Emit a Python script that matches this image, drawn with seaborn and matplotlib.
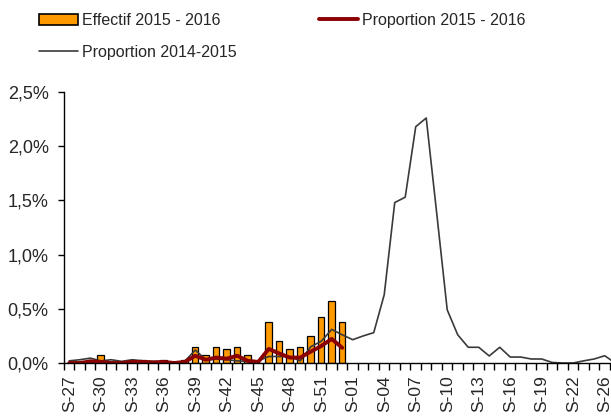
import numpy as np
import pandas as pd
import matplotlib
matplotlib.use("Agg")
import matplotlib.pyplot as plt
import seaborn as sns
from matplotlib.patches import Patch
from matplotlib.lines import Line2D
from matplotlib.ticker import FuncFormatter

# ---------------- data ----------------
weeks = (["S-%02d" % w for w in range(27, 54)]
         + ["S-%02d" % w for w in range(1, 23)]
         + ["S-24", "S-25", "S-26", "S-27"])

# Effectif 2015 - 2016 (counts, S-27 .. S-53)
effectif_2015_2016 = [0, 0, 1, 3, 0, 0, 1, 1, 0, 1, 0, 1, 6, 3, 6, 5, 6, 3, 0,
                      15, 8, 5, 6, 10, 17, 23, 15]

# Proportion 2015 - 2016 (%, S-27 .. S-53)
prop_2015_2016 = [0.0, 0.0, 0.015, 0.01, 0.0, 0.0, 0.01, 0.01, 0.005, 0.01, 0.0,
                  0.01, 0.067, 0.03, 0.05, 0.04, 0.067, 0.02, 0.01, 0.13, 0.088,
                  0.05, 0.05, 0.105, 0.157, 0.222, 0.14]

# Proportion 2014-2015 (%, whole season)
prop_2014_2015 = [0.02, 0.03, 0.045, 0.02, 0.03, 0.015, 0.03, 0.02, 0.015, 0.015,
                  0.0, 0.015, 0.12, 0.03, 0.037, 0.03, 0.02, 0.015, 0.02, 0.06,
                  0.06, 0.06, 0.02, 0.15, 0.20, 0.31, 0.26,
                  0.215, 0.25, 0.28, 0.63, 1.48, 1.53, 2.18, 2.26, 1.38, 0.49,
                  0.26, 0.145, 0.145, 0.065, 0.145, 0.055, 0.055, 0.037, 0.037,
                  0.005, 0.0, 0.0, 0.02, 0.037, 0.067, 0.0]

y_ticks = [0.0, 0.5, 1.0, 1.5, 2.0, 2.5]
legend_labels = ["Effectif 2015 - 2016", "Proportion 2014-2015", "Proportion 2015 - 2016"]

# ---------------- style ----------------
sns.set_style("white")
plt.rcParams["font.family"] = ["Liberation Sans", "DejaVu Sans"]

ORANGE = "#FF9900"
DARKRED = "#8B0000"
GREY = "#3A3A3A"

W, H = 611, 416
fig = plt.figure(figsize=(W / 100, H / 100), dpi=100)
ax = fig.add_axes([64 / W, 53 / H, (610.7 - 64) / W, 271 / H])
axb = ax.twinx()

pos_all = np.arange(len(weeks))
pos_15 = np.arange(len(effectif_2015_2016))

df_bar = pd.DataFrame({"x": pos_15, "n": effectif_2015_2016})
sns.barplot(data=df_bar, x="x", y="n", native_scale=True, ax=axb, color=ORANGE,
            saturation=1, edgecolor="black", linewidth=0.9, width=0.62)
axb.set_ylim(0, 100)
axb.set_yticks([])
axb.set_ylabel("")
for s in axb.spines.values():
    s.set_visible(False)

df14 = pd.DataFrame({"x": pos_all, "p": prop_2014_2015})
df15 = pd.DataFrame({"x": pos_15, "p": prop_2015_2016})
sns.lineplot(data=df14, x="x", y="p", ax=ax, color=GREY, linewidth=1.2)
sns.lineplot(data=df15, x="x", y="p", ax=ax, color=DARKRED, linewidth=2.8)

ax.set_zorder(2)
axb.set_zorder(1)
ax.patch.set_visible(False)

ax.set_xlim(-0.5, 51.57)
axb.set_xlim(-0.5, 51.57)
ax.set_ylim(0, 2.5)
ax.set_xlabel("")
ax.set_ylabel("")

for side in ["top", "right"]:
    ax.spines[side].set_visible(False)
for side in ["left", "bottom"]:
    ax.spines[side].set_color("black")
    ax.spines[side].set_linewidth(1.0)

ax.set_yticks(y_ticks)
ax.yaxis.set_major_formatter(FuncFormatter(lambda v, p: ("%.1f%%" % v).replace(".", ",")))
ax.tick_params(axis="y", direction="out", length=4, width=1, color="black",
               labelsize=13, pad=7, left=True)

label_pos = list(range(0, len(weeks) - 1, 3))
ax.set_xticks(label_pos)
ax.set_xticklabels([weeks[i] for i in label_pos], rotation=90)
ax.set_xticks(np.arange(-0.5, 52, 1.0), minor=True)
ax.tick_params(axis="x", which="major", length=0, labelsize=12.5, pad=9)
ax.tick_params(axis="x", which="minor", direction="out", length=5, width=1,
               color="black", bottom=True)
axb.tick_params(axis="x", which="both", length=0, labelbottom=False)

handles = [Patch(facecolor=ORANGE, edgecolor="black", linewidth=1.2),
           Line2D([], [], color=GREY, linewidth=1.2),
           Line2D([], [], color=DARKRED, linewidth=2.8)]
fig.legend(handles, legend_labels, ncol=2, loc="upper left",
           bbox_to_anchor=(38.5 / W, 1 - 13 / H), frameon=False, fontsize=11.5,
           handlelength=2.45, handleheight=0.7, handletextpad=0.25,
           columnspacing=5.2, labelspacing=1.05, borderpad=0, borderaxespad=0)

fig.savefig("out.png", dpi=100)
